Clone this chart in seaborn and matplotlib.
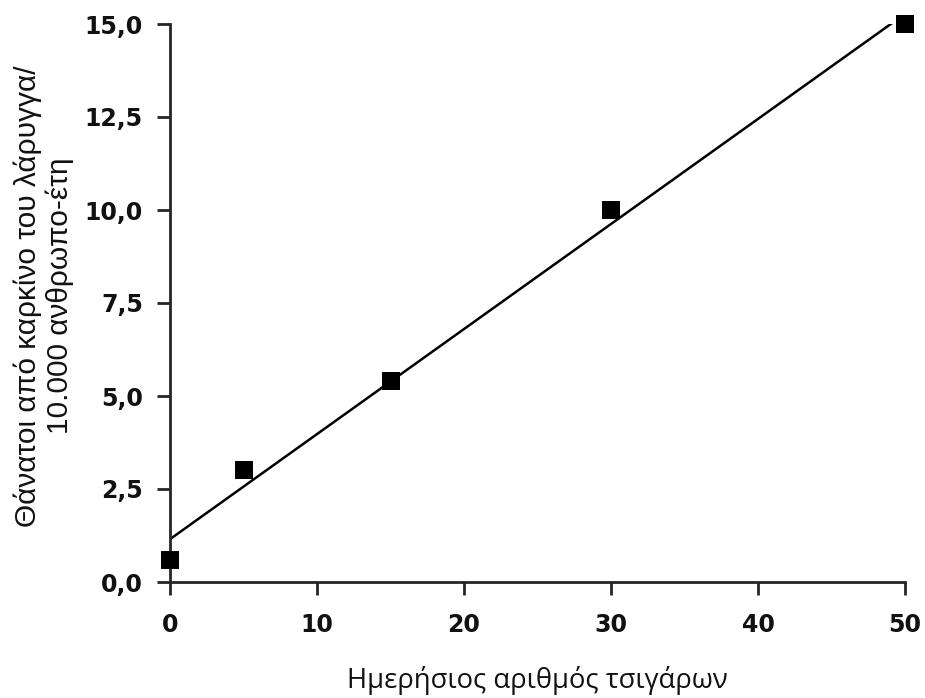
import matplotlib
matplotlib.use('Agg')
import matplotlib.pyplot as plt
import pandas as pd
import seaborn as sns

# data
cigarettes = [0, 5, 15, 30, 50]
deaths = [0.6, 3.0, 5.4, 10.0, 15.0]
x_ticks = [0, 10, 20, 30, 40, 50]
y_ticks = [0.0, 2.5, 5.0, 7.5, 10.0, 12.5, 15.0]
y_tick_labels = ['0,0', '2,5', '5,0', '7,5', '10,0', '12,5', '15,0']
x_label = 'Ημερήσιος αριθμός τσιγάρων'
y_label = 'Θάνατοι από καρκίνο του λάρυγγα/\n10.000 ανθρωπο-έτη'

df = pd.DataFrame({'cigarettes': cigarettes, 'deaths': deaths})

sns.set_style('ticks')
plt.rcParams['font.family'] = ['DejaVu Sans']

text_color = '#111111'
W, H = 925, 698

fig = plt.figure(figsize=(W / 100, H / 100), dpi=100)
ax = fig.add_axes([170 / W, 1 - 582 / H, 735 / W, 558 / H])

sns.regplot(data=df, x='cigarettes', y='deaths', ci=None, marker='s', ax=ax,
            scatter_kws=dict(s=160, color='black', alpha=1, clip_on=False,
                             zorder=5, linewidths=0),
            line_kws=dict(color='black', lw=1.8))

ax.set_xlim(0, 50)
ax.set_ylim(0, 15)
ax.set_xticks(x_ticks)
ax.set_yticks(y_ticks)
ax.set_yticklabels(y_tick_labels)
for lbl in ax.get_xticklabels() + ax.get_yticklabels():
    lbl.set_fontweight('bold')
    lbl.set_fontsize(17)
    lbl.set_color(text_color)

ax.tick_params(axis='both', length=9.5, width=2)
ax.tick_params(axis='y', pad=10)
ax.tick_params(axis='x', pad=13)
for side in ['left', 'bottom']:
    ax.spines[side].set_linewidth(2)
sns.despine(ax=ax)
ax.set_xlabel('')
ax.set_ylabel('')

# axis titles placed as figure text, sized to the reference widths
xl = fig.text(537.5 / W, 1 - 688 / H, x_label, ha='center', va='baseline',
              fontsize=19, family=['Open Sans', 'DejaVu Sans'], color=text_color)
yl = fig.text(44 / W, 1 - 296 / H, y_label, ha='center', va='center',
              rotation=90, multialignment='center', linespacing=1.15,
              fontsize=19, family=['Liberation Sans', 'DejaVu Sans'],
              color=text_color)

renderer = fig.canvas.get_renderer()
w = xl.get_window_extent(renderer).width
xl.set_fontsize(19 * 381 / w)
h = yl.get_window_extent(renderer).height
yl.set_fontsize(19 * 462 / h)

fig.savefig('out.png', dpi=100)
